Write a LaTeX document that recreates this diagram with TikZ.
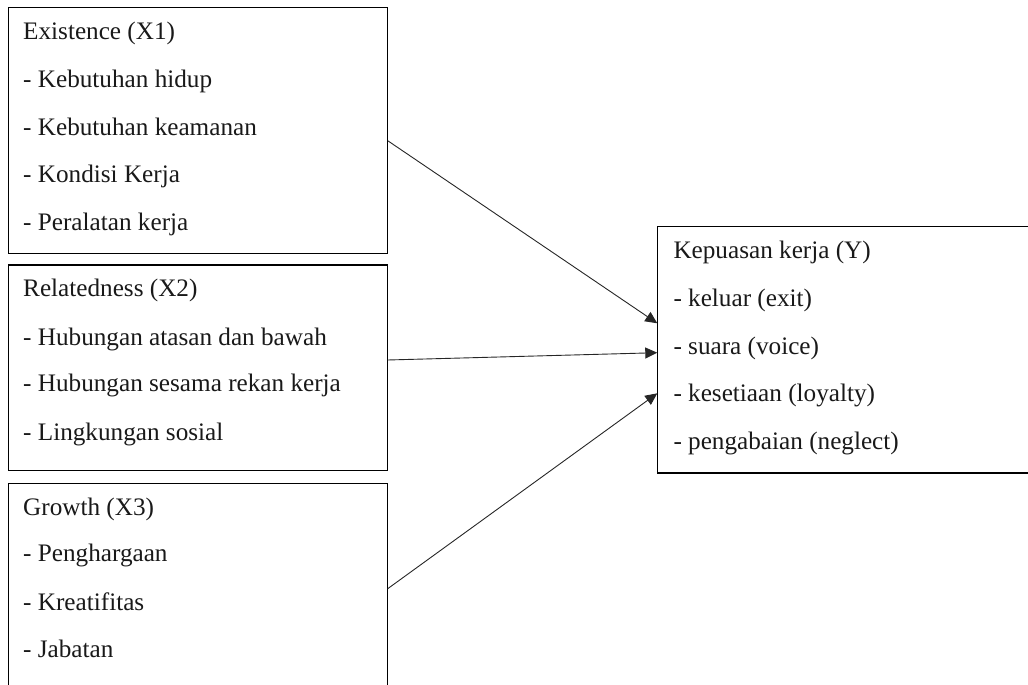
\documentclass[tikz,border=0pt]{standalone}
\usepackage{fontspec}
\setmainfont{Liberation Serif}
\usetikzlibrary{arrows.meta,calc}
\begin{document}
\begin{tikzpicture}[x=1pt,y=-1pt,
 boxst/.style={draw, line width=1.1pt, inner sep=0pt, outer sep=0pt, anchor=north west},
 txt/.style={anchor=base west, inner sep=0pt, text=black!90, font=\fontsize{25.2}{28}\selectfont},
 arr/.style={-{Triangle[length=12pt,width=11pt]}, line width=0.9pt, draw=black!85}]
\useasboundingbox (0,0) rectangle (1028,685);
\clip (0,0) rectangle (1028,685);
% boxes
\node[boxst, minimum width=379.2pt, minimum height=245.8pt] (b1) at (8.5,7.5) {};
\node[boxst, minimum width=379.2pt, minimum height=205.7pt] (b2) at (8.5,265) {};
\node[boxst, minimum width=379.2pt, minimum height=230pt] (b3) at (8.5,483.3) {};
\node[boxst, minimum width=390pt, minimum height=246.3pt] (by) at (657.3,226.7) {};
% texts box 1
\node[txt] (t11) at (23,40) {Existence (X1)};
\node[txt] (t12) at (23,87.3) {- Kebutuhan hidup};
\node[txt] (t13) at (23,135) {- Kebutuhan keamanan};
\node[txt] (t14) at (23,182.7) {- Kondisi Kerja};
\node[txt] (t15) at (23,230) {- Peralatan kerja};
% texts box 2
\node[txt] (t21) at (23,296.7) {Relatedness (X2)};
\node[txt] (t22) at (23,345) {- Hubungan atasan dan bawah};
\node[txt] (t23) at (23,391.7) {- Hubungan sesama rekan kerja};
\node[txt] (t24) at (23,440) {- Lingkungan sosial};
% texts box 3
\node[txt] (t31) at (23,515) {Growth (X3)};
\node[txt] (t32) at (23,561.7) {- Penghargaan};
\node[txt] (t33) at (23,610) {- Kreatifitas};
\node[txt] (t34) at (23,657.3) {- Jabatan};
% texts box Y
\node[txt] (ty1) at (673.3,258.3) {Kepuasan kerja (Y)};
\node[txt] (ty2) at (673.3,306.7) {- keluar (exit)};
\node[txt] (ty3) at (673.3,354) {- suara (voice)};
\node[txt] (ty4) at (673.3,401.7) {- kesetiaan (loyalty)};
\node[txt] (ty5) at (673.3,449.3) {- pengabaian (neglect)};
% connector ends
\coordinate (s1) at ($(b1.north east)+(0,133.2)$);
\coordinate (s2) at ($(b2.north east)+(0,95)$);
\coordinate (s3) at ($(b3.north east)+(0,105.4)$);
\coordinate (e1) at ($(by.north west)+(0,96.6)$);
\coordinate (e2) at ($(by.north west)+(0,126)$);
\coordinate (e3) at ($(by.north west)+(0,166.6)$);
\draw[arr] (s1) -- (e1);
\draw[arr] (s2) -- (e2);
\draw[arr] (s3) -- (e3);
\end{tikzpicture}
\end{document}
